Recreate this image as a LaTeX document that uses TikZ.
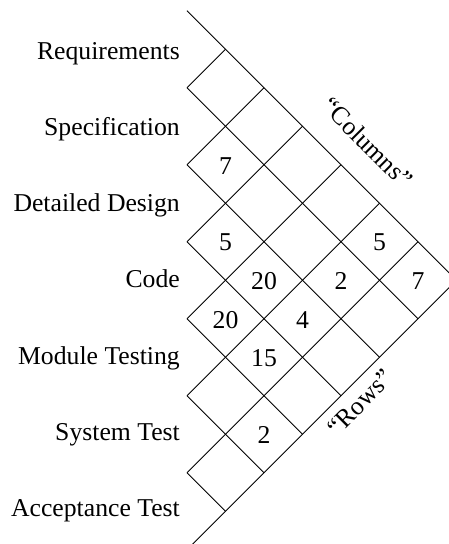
\documentclass[tikz,border=0pt]{standalone}
\usepackage{fontspec}
\setmainfont{Liberation Serif}
\begin{document}
\begin{tikzpicture}[x=1pt,y=-1pt,
  gridline/.style={draw=black,line width=0.9pt},
  rowlabel/.style={anchor=base east,inner sep=0pt,font=\fontsize{25.7}{30}\selectfont},
  cellnum/.style={anchor=center,inner sep=0pt,font=\fontsize{25.7}{30}\selectfont},
  axislabel/.style={anchor=center,inner sep=0pt,font=\fontsize{25.7}{30}\selectfont}]
\useasboundingbox (0,0) rectangle (449,544);
\clip (0,0) rectangle (449,544);
% grid points
\foreach \i in {0,...,7}{
  \foreach \j in {0,...,7}{
    \coordinate (p-\i-\j) at ({187+38.5*(\i-\j)},{10.7+38.5*(\i+\j)});
  }
}
% lines of constant i
\foreach \i in {1,...,7}{
  \draw[gridline] (p-\i-0) -- (p-\i-\i);
}
% lines of constant j
\foreach \j in {0,...,6}{
  \draw[gridline] (p-\j-\j) -- (p-7-\j);
}
% row labels
\foreach \k/\t in {0/Requirements,1/Specification,2/Detailed Design,3/Code,4/Module Testing,5/System Test,6/Acceptance Test}{
  \node[rowlabel] (r\k) at (180,{59+76.28*\k}) {\t};
}
% cell numbers
\foreach \i/\j/\t in {2/1/7,3/2/5,5/0/5,4/2/20,5/1/2,6/0/7,4/3/20,5/2/4,5/3/15,6/4/2}{
  \node[cellnum] (n-\i-\j) at ({187+38.5*(\i-\j)},{10.7+38.5*(\i+\j+1)+1}) {\t};
}
\node[axislabel,rotate=-45] (columns) at (367.5,142.5) {“Columns”};
\node[axislabel,rotate=45] (rows) at (360,402.5) {“Rows”};
\end{tikzpicture}
\end{document}
